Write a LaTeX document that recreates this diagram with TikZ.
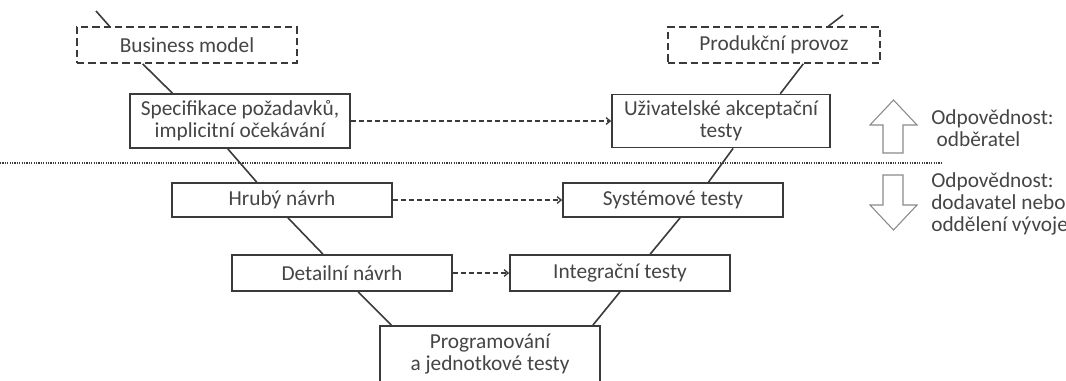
\documentclass[tikz,border=0pt]{standalone}
\usepackage{fontspec}
\setmainfont{Carlito}
\usetikzlibrary{calc,arrows.meta}
\definecolor{txt}{HTML}{454545}
\definecolor{bord}{HTML}{3A3A3A}
\definecolor{hollow}{HTML}{8A8A8A}
\tikzset{
  stage/.style={draw=bord, line width=1.3pt, fill=white, text=txt, align=center,
    inner sep=0pt, font=\fontsize{16}{16.5}\selectfont},
  extern/.style={stage, dash pattern=on 5.5pt off 3pt},
  vline/.style={draw=bord, line width=1.2pt},
  flow/.style={draw=bord, line width=1pt, dash pattern=on 3.5pt off 2.5pt,
    -{Straight Barb[length=3pt,width=5pt,line width=1pt]}},
  sidetext/.style={text=txt, align=left, anchor=west, inner sep=0pt,
    font=\fontsize{16}{16.5}\selectfont},
  hollowarrow/.style={draw=hollow, line width=0.8pt, fill=white, line join=miter}
}
\begin{document}
\begin{tikzpicture}[x=0.75pt,y=-0.75pt]
\useasboundingbox (0,0) rectangle (1066,380);

% left branch (sizes in pt = px * 0.75)
\node[extern, minimum width=165pt, minimum height=27pt] (bm) at (187,45) {Business model};
\node[stage, minimum width=165pt, minimum height=40.5pt] (spec) at (240,121) {Specifikace požadavků,\\implicitní očekávání};
\node[stage, minimum width=165pt, minimum height=25.5pt] (hr) at (282,200) {Hrubý návrh};
\node[stage, minimum width=165pt, minimum height=27pt] (det) at (342,273) {Detailní návrh};
\node[stage, minimum width=165pt, minimum height=42pt] (prog) at (490,354) {Programování\\a jednotkové testy};
% right branch
\node[extern, minimum width=159pt, minimum height=27pt] (pp) at (774,45) {Produkční provoz};
\node[stage, minimum width=163.5pt, minimum height=39.75pt] (ua) at (721,121) {Uživatelské akceptační\\testy};
\node[stage, minimum width=165pt, minimum height=25.5pt] (st) at (673,200) {Systémové testy};
\node[stage, minimum width=165pt, minimum height=27pt] (it) at (620,273) {Integrační testy};

\coordinate (topL) at (96,11);
\coordinate (topR) at (843,15);

% V lines
\draw[vline] (topL) -- ($(bm.north west)!0.15!(bm.north east)$);
\draw[vline] ($(bm.south west)!0.3!(bm.south east)$) -- ($(spec.north west)!0.195!(spec.north east)$);
\draw[vline] ($(spec.south west)!0.445!(spec.south east)$) -- ($(hr.north west)!0.386!(hr.north east)$);
\draw[vline] ($(hr.south west)!0.527!(hr.south east)$) -- ($(det.north west)!0.414!(det.north east)$);
\draw[vline] ($(det.south west)!0.573!(det.south east)$) -- ($(prog.north west)!0.055!(prog.north east)$);
\draw[vline] ($(prog.north west)!0.964!(prog.north east)$) -- ($(it.south west)!0.5!(it.south east)$);
\draw[vline] ($(it.north west)!0.636!(it.north east)$) -- ($(st.south west)!0.532!(st.south east)$);
\draw[vline] ($(st.north west)!0.66!(st.north east)$) -- ($(ua.south west)!0.555!(ua.south east)$);
\draw[vline] ($(ua.north west)!0.77!(ua.north east)$) -- ($(pp.south west)!0.637!(pp.south east)$);
\draw[vline] ($(pp.north west)!0.755!(pp.north east)$) -- (topR);

% dashed correspondences
\draw[flow] (spec.east) -- (ua.west);
\draw[flow] (hr.east) -- (st.west);
\draw[flow] (det.east) -- (it.west);

% responsibility divider
\coordinate (divL) at (0,163);
\coordinate (divR) at (942,163);
\draw[bord, line width=0.9pt, dash pattern=on 0.9pt off 0.9pt] (divL) -- (divR);

% hollow arrows
\draw[hollowarrow] (883,153) -- (883,125) -- (870,125) -- (893.5,100) -- (917,125) -- (903,125) -- (903,153) -- cycle;
\draw[hollowarrow] (883,175) -- (883,205) -- (870,205) -- (893.5,230) -- (917,205) -- (903,205) -- (903,175) -- cycle;

\node[sidetext] (custtxt) at (931,128) {Odpovědnost:\\\hspace*{0.25em}odběratel};
\node[sidetext] (suptxt) at (931,204) {Odpovědnost:\\dodavatel nebo\\oddělení vývoje};
\end{tikzpicture}
\end{document}
